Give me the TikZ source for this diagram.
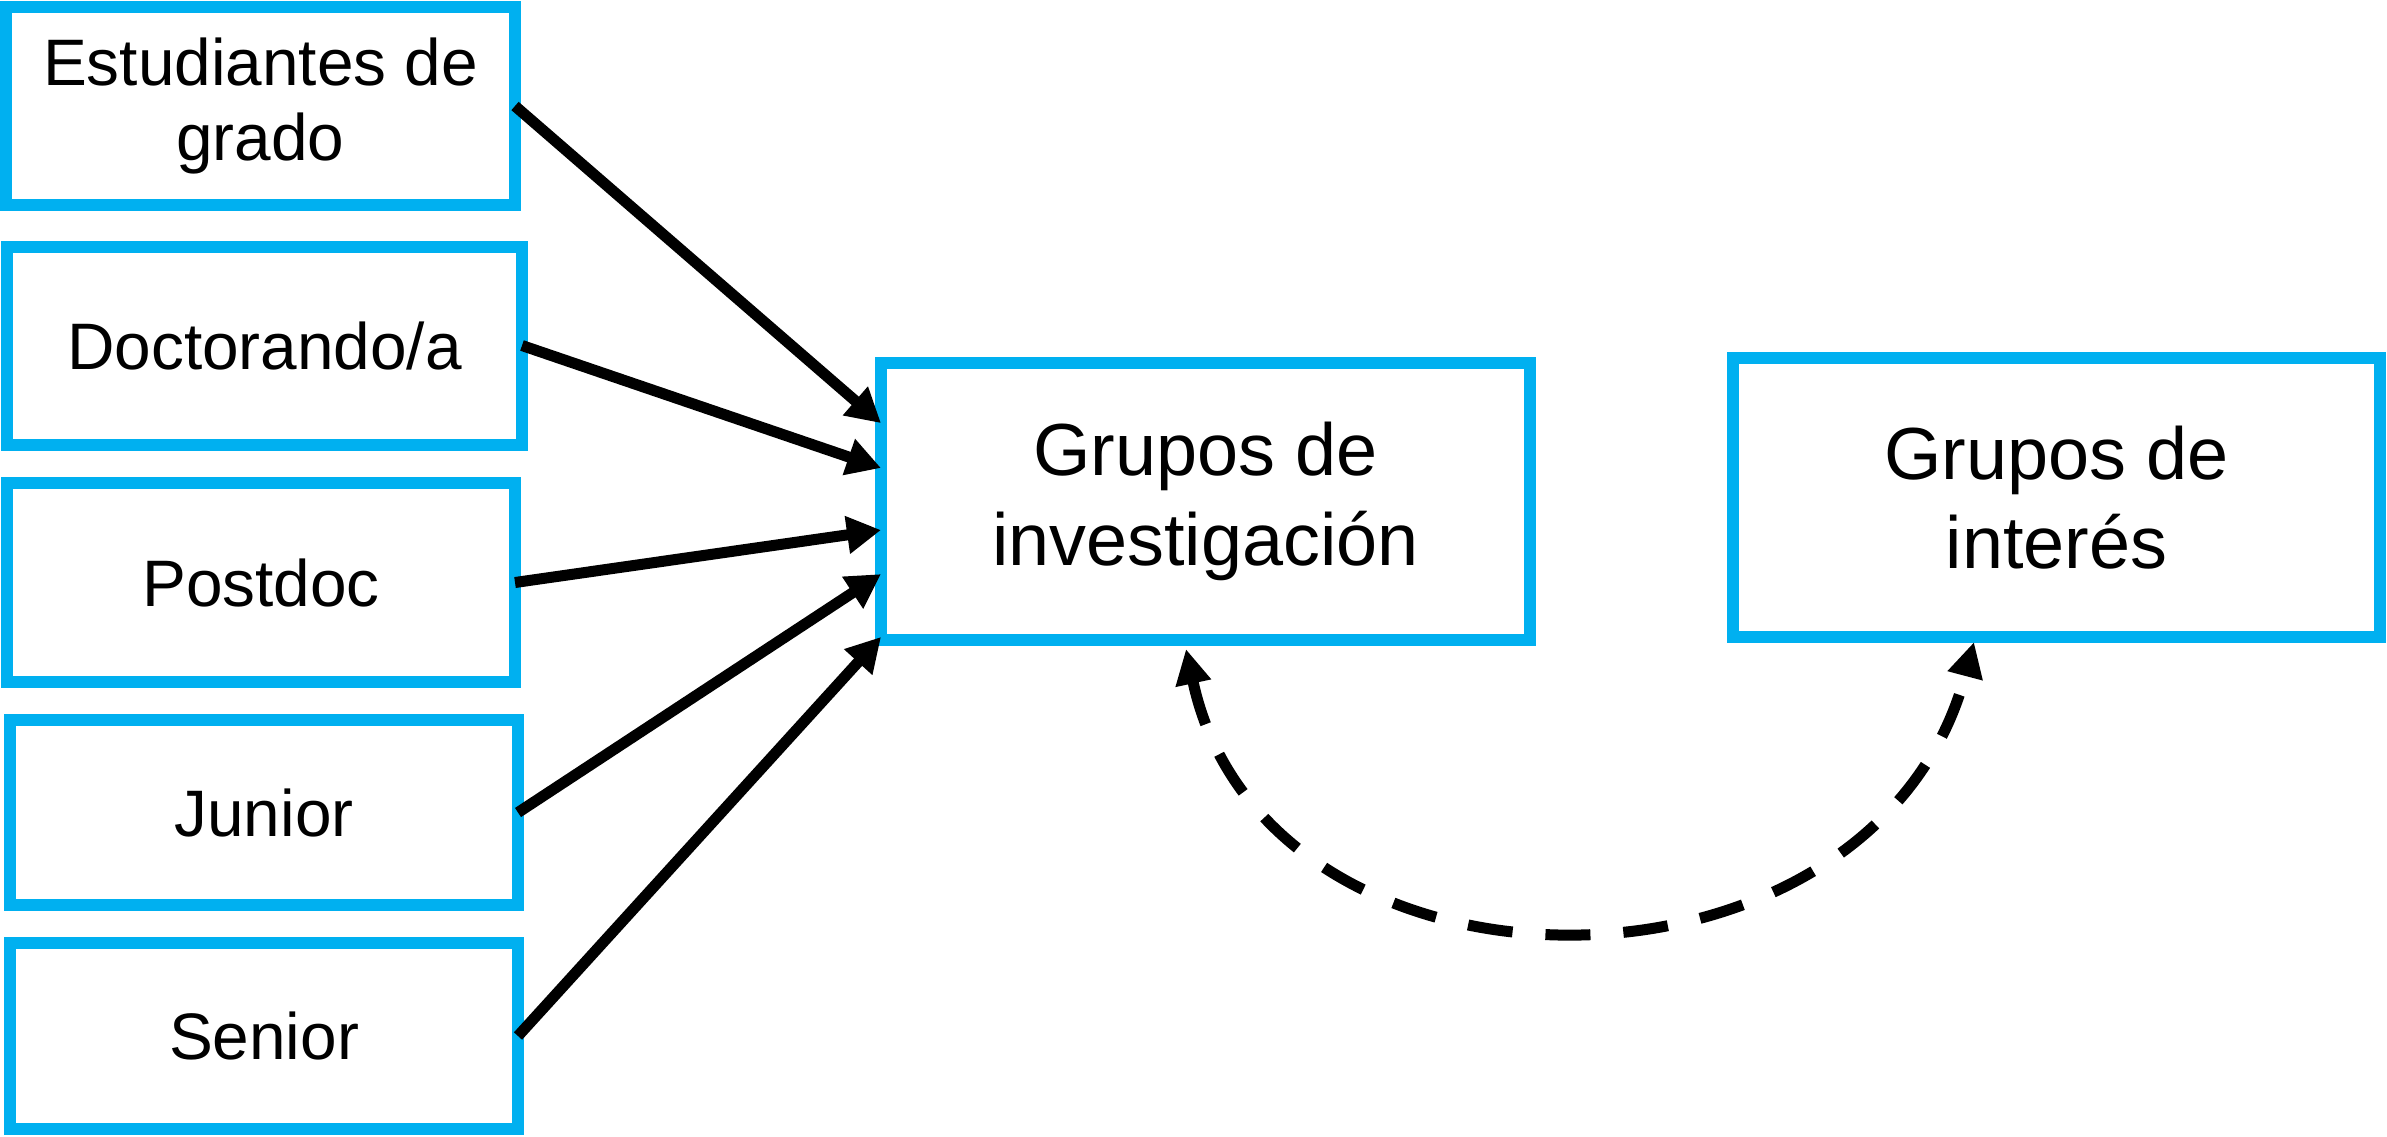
\documentclass[tikz,border=0pt]{standalone}
\usepackage{fontspec}
\setmainfont{Liberation Sans}
\usetikzlibrary{arrows.meta,calc}
\definecolor{boxblue}{HTML}{00B0F0}

\begin{document}
\begin{tikzpicture}[
  box/.style={draw=boxblue, line width=0.12cm, rectangle, inner sep=0pt, outer sep=0pt, align=center},
  small/.style={font=\fontsize{18.7}{21.6}\selectfont},
  big/.style={font=\fontsize{21}{25.4}\selectfont},
  arr/.style={line width=0.11cm, -{Triangle[length=0.34cm,width=0.36cm]}},
  dasharr/.style={line width=0.11cm, dash pattern=on 0.45cm off 0.33cm,
    {Triangle[length=0.35cm,width=0.34cm]}-{Triangle[length=0.35cm,width=0.34cm]}}
]
 \useasboundingbox (0,0) rectangle (23.87,-11.36);
 \node[box,small,minimum width=5.09cm,minimum height=1.985cm] (est) at (2.605,-1.06) {Estudiantes de\\grado};
 \node[box,small,minimum width=5.15cm,minimum height=1.98cm] (doc) at (2.645,-3.455) {Doctorando/a};
 \node[box,small,minimum width=5.08cm,minimum height=1.99cm] (post) at (2.61,-5.825) {Postdoc};
 \node[box,small,minimum width=5.08cm,minimum height=1.85cm] (jun) at (2.64,-8.125) {Junior};
 \node[box,small,minimum width=5.08cm,minimum height=1.86cm] (sen) at (2.64,-10.36) {Senior};
 \node[box,big,minimum width=6.49cm,minimum height=2.77cm] (inv) at (12.055,-5.015) {Grupos de\\investigación};
 \node[box,big,minimum width=6.47cm,minimum height=2.79cm] (int) at (20.565,-4.975) {Grupos de\\interés};
 %
 \draw[arr] (est.east) -- ($(inv.north west)!0.217!(inv.south west)$);
 \draw[arr] (doc.east) -- ($(inv.north west)!0.379!(inv.south west)$);
 \draw[arr] (post.east) -- ($(inv.north west)!0.603!(inv.south west)$);
 \draw[arr] (jun.east) -- ($(inv.north west)!0.762!(inv.south west)$);
 \draw[arr] (sen.east) -- ($(inv.north west)!0.989!(inv.south west)$);
 \draw[dasharr] ($(inv.south)+(-0.195,-0.09)$) .. controls +(0.8,-3.72) and +(-1.0,-3.79) .. ($(int.south)+(-0.825,-0.05)$);
\end{tikzpicture}
\end{document}
